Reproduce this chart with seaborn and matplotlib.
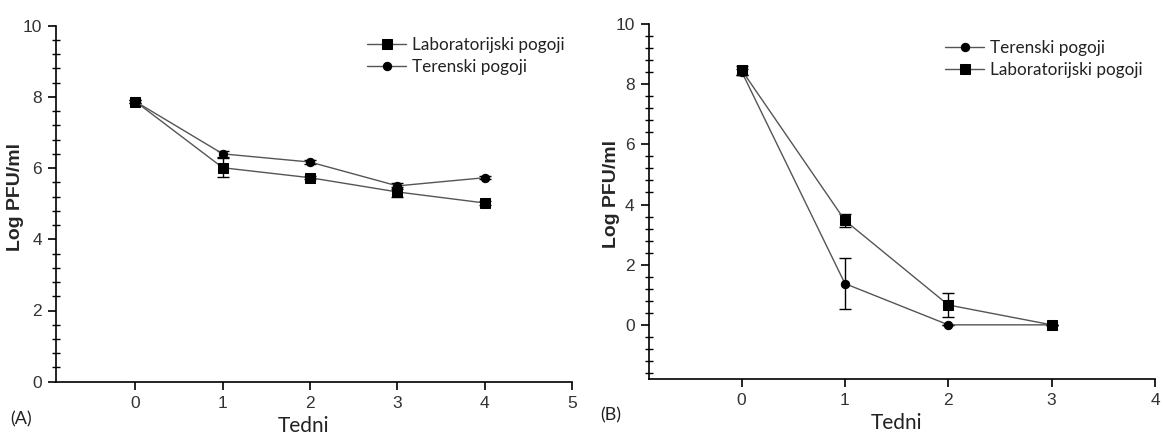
import numpy as np
import pandas as pd
import matplotlib
matplotlib.use("Agg")
import matplotlib.pyplot as plt
from matplotlib.ticker import MultipleLocator
import seaborn as sns

sns.set_theme(style="white")
plt.rcParams['font.family'] = ['Liberation Sans', 'DejaVu Sans']

# ---- data ----
weeks_a = [0, 1, 2, 3, 4]
lab_a = [7.87, 6.01, 5.73, 5.33, 5.02]
lab_a_err = [0.05, 0.27, 0.05, 0.15, 0.05]
ter_a = [7.87, 6.40, 6.17, 5.50, 5.73]
ter_a_err = [0.05, 0.08, 0.05, 0.08, 0.05]

weeks_b = [0, 1, 2, 3]
ter_b = [8.42, 1.37, 0.0, 0.0]
ter_b_err = [0.10, 0.85, 0.0, 0.0]
lab_b = [8.47, 3.47, 0.66, 0.0]
lab_b_err = [0.15, 0.22, 0.41, 0.0]

label_lab = "Laboratorijski pogoji"
label_ter = "Terenski pogoji"

line_color = "#555555"
W, H = 1163.0, 434.0

fig = plt.figure(figsize=(11.63, 4.34), dpi=100)
axA = fig.add_axes([56 / W, 1 - 381.7 / H, (572 - 56) / W, (381.7 - 25.7) / H])
axB = fig.add_axes([648.6 / W, 1 - 379 / H, (1155 - 648.6) / W, (379 - 24) / H])


def draw(ax, weeks, series):
    for vals, errs, label, marker, ms in series:
        df = pd.DataFrame({"Tedni": weeks, "val": vals})
        sns.lineplot(data=df, x="Tedni", y="val", ax=ax, color=line_color,
                     linewidth=1.0, marker=marker, markersize=ms,
                     markerfacecolor="black", markeredgecolor="black",
                     label=label, zorder=3)
        ax.errorbar(weeks, vals, yerr=errs, fmt="none", ecolor="black",
                    elinewidth=1.0, capsize=4, capthick=1.0, zorder=2)


draw(axA, weeks_a, [
    (lab_a, lab_a_err, label_lab, "s", 7.5),
    (ter_a, ter_a_err, label_ter, "o", 6.0),
])
draw(axB, weeks_b, [
    (ter_b, ter_b_err, label_ter, "o", 6.0),
    (lab_b, lab_b_err, label_lab, "s", 7.5),
])

for ax, xlim, ylim, xmax, leg_anchor in [
    (axA, (-0.91, 5), (0, 10), 5, (367 / W, 1 - 37 / H)),
    (axB, (-0.90, 4), (-1.8, 10), 4, (945 / W, 1 - 40 / H)),
]:
    ax.set_xlim(*xlim)
    ax.set_ylim(*ylim)
    ax.set_xticks(range(0, xmax + 1))
    ax.set_yticks([0, 2, 4, 6, 8, 10])
    ax.yaxis.set_minor_locator(MultipleLocator(0.4))
    for s in ["top", "right"]:
        ax.spines[s].set_visible(False)
    for s in ["left", "bottom"]:
        ax.spines[s].set_color("black")
        ax.spines[s].set_linewidth(1.2)
    ax.tick_params(axis="both", which="major", direction="out", length=6,
                   width=1.2, color="black", labelsize=12.5,
                   labelcolor="#333333", left=True, bottom=True, pad=4)
    ax.tick_params(axis="y", which="minor", direction="inout", length=6,
                   width=1.0, color="black", left=True)
    ax.set_ylabel("Log PFU/ml", fontsize=14, fontweight="bold")
    ax.set_xlabel("Tedni", fontsize=15, family=["Lato", "DejaVu Sans"],
                  color="#222222")
    leg = ax.legend(loc="upper left", frameon=False,
                    prop={"family": ["Lato", "DejaVu Sans"], "size": 12.3},
                    handlelength=2.3, handletextpad=0.35, labelspacing=0.35,
                    borderpad=0, borderaxespad=0,
                    bbox_to_anchor=leg_anchor, bbox_transform=fig.transFigure)
    for t in leg.get_texts():
        t.set_color("#222222")
    ax.grid(False)

axA.yaxis.set_label_coords(-0.062, 0.52)
axB.yaxis.set_label_coords(-0.057, 0.52)
axA.xaxis.set_label_coords(0.48, -0.095)
axB.xaxis.set_label_coords(0.49, -0.095)

fig.text(10 / W, 1 - 419 / H, "(A)", fontsize=13, family=["Lato", "DejaVu Sans"],
         color="#222222", va="center", ha="left")
fig.text(600 / W, 1 - 415 / H, "(B)", fontsize=13, family=["Lato", "DejaVu Sans"],
         color="#222222", va="center", ha="left")

fig.savefig("out.png", dpi=100, facecolor="white")
